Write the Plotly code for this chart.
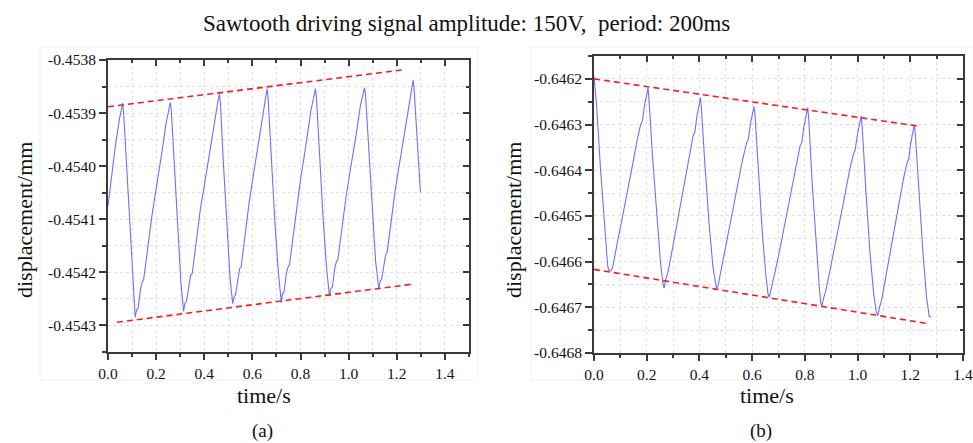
import plotly.graph_objects as go

FONT = "Times New Roman, Liberation Serif, Tinos, serif"

# ---------------- data: panel (a) ----------------
t_a = [0.000, 0.006, 0.012, 0.020, 0.027, 0.031, 0.040, 0.048, 0.055, 0.061,
       0.065, 0.077, 0.092, 0.104, 0.113,
       0.119, 0.125, 0.135, 0.142, 0.148, 0.164, 0.182, 0.196, 0.211, 0.227, 0.241, 0.252, 0.259,
       0.263, 0.275, 0.290, 0.303, 0.314,
       0.320, 0.326, 0.336, 0.343, 0.350, 0.366, 0.384, 0.399, 0.414, 0.430, 0.445, 0.456, 0.463,
       0.467, 0.479, 0.494, 0.507, 0.518,
       0.524, 0.530, 0.540, 0.547, 0.553, 0.569, 0.586, 0.600, 0.614, 0.630, 0.644, 0.654, 0.661,
       0.665, 0.678, 0.694, 0.708, 0.720,
       0.725, 0.731, 0.741, 0.748, 0.754, 0.770, 0.786, 0.800, 0.814, 0.830, 0.844, 0.855, 0.862,
       0.866, 0.879, 0.894, 0.908, 0.920,
       0.926, 0.932, 0.942, 0.949, 0.955, 0.971, 0.989, 1.003, 1.018, 1.034, 1.048, 1.059, 1.066,
       1.070, 1.083, 1.098, 1.112, 1.125,
       1.131, 1.137, 1.147, 1.154, 1.160, 1.176, 1.193, 1.207, 1.221, 1.237, 1.251, 1.261, 1.268,
       1.272, 1.284, 1.298]
d_a = [-0.454075, -0.454050, -0.454030, -0.454000, -0.453975, -0.453960, -0.453930, -0.453910, -0.453895, -0.453881,
       -0.453900, -0.454000, -0.454130, -0.454220, -0.454285,
       -0.454270, -0.454268, -0.454232, -0.454218, -0.454214, -0.454155, -0.454095, -0.454054, -0.454014, -0.453965, -0.453920, -0.453896, -0.453880,
       -0.453895, -0.454000, -0.454130, -0.454220, -0.454273,
       -0.454258, -0.454255, -0.454220, -0.454206, -0.454202, -0.454142, -0.454080, -0.454040, -0.453998, -0.453950, -0.453904, -0.453880, -0.453864,
       -0.453880, -0.453990, -0.454120, -0.454210, -0.454259,
       -0.454246, -0.454242, -0.454207, -0.454193, -0.454190, -0.454130, -0.454070, -0.454028, -0.453988, -0.453940, -0.453895, -0.453870, -0.453854,
       -0.453870, -0.453980, -0.454110, -0.454200, -0.454257,
       -0.454240, -0.454238, -0.454203, -0.454190, -0.454186, -0.454126, -0.454066, -0.454025, -0.453985, -0.453937, -0.453893, -0.453870, -0.453854,
       -0.453870, -0.453980, -0.454100, -0.454190, -0.454245,
       -0.454230, -0.454228, -0.454193, -0.454180, -0.454176, -0.454117, -0.454058, -0.454018, -0.453978, -0.453932, -0.453888, -0.453866, -0.453852,
       -0.453866, -0.453970, -0.454090, -0.454180, -0.454230,
       -0.454216, -0.454213, -0.454180, -0.454166, -0.454162, -0.454104, -0.454046, -0.454007, -0.453968, -0.453921, -0.453878, -0.453854, -0.453838,
       -0.453856, -0.453940, -0.454049]
env_a_upper_t = [0.000, 1.236]
env_a_upper_d = [-0.453888, -0.453818]
env_a_lower_t = [0.037, 1.268]
env_a_lower_d = [-0.454294, -0.454222]

# ---------------- data: panel (b) ----------------
t_b = [0.000, 0.010, 0.025, 0.040, 0.052, 0.057, 0.064,
       0.071, 0.078, 0.092, 0.106, 0.120, 0.134, 0.149, 0.163, 0.177, 0.184, 0.191, 0.205,
       0.208, 0.222, 0.238, 0.252, 0.262, 0.266,
       0.272, 0.280, 0.294, 0.307, 0.321, 0.335, 0.349, 0.363, 0.376, 0.383, 0.390, 0.404,
       0.407, 0.421, 0.437, 0.451, 0.460, 0.465,
       0.471, 0.479, 0.493, 0.507, 0.521, 0.536, 0.550, 0.564, 0.579, 0.586, 0.593, 0.607,
       0.611, 0.624, 0.639, 0.652, 0.660, 0.665,
       0.672, 0.680, 0.694, 0.709, 0.723, 0.738, 0.753, 0.767, 0.782, 0.789, 0.796, 0.811,
       0.815, 0.828, 0.842, 0.854, 0.860, 0.864,
       0.871, 0.879, 0.894, 0.909, 0.924, 0.939, 0.954, 0.969, 0.984, 0.991, 0.999, 1.014,
       1.018, 1.032, 1.047, 1.061, 1.071, 1.077,
       1.083, 1.091, 1.104, 1.118, 1.132, 1.146, 1.160, 1.173, 1.187, 1.194, 1.201, 1.215,
       1.219, 1.233, 1.248, 1.262, 1.272, 1.279]
d_b = [-0.646195, -0.646260, -0.646400, -0.646520, -0.646610, -0.646620, -0.646620,
       -0.646612, -0.646588, -0.646548, -0.646508, -0.646468, -0.646420, -0.646380, -0.646336, -0.646300, -0.646292, -0.646260, -0.646220,
       -0.646240, -0.646370, -0.646500, -0.646600, -0.646650, -0.646658,
       -0.646640, -0.646624, -0.646583, -0.646541, -0.646499, -0.646450, -0.646408, -0.646362, -0.646325, -0.646316, -0.646283, -0.646241,
       -0.646260, -0.646390, -0.646520, -0.646610, -0.646650, -0.646660,
       -0.646652, -0.646628, -0.646588, -0.646548, -0.646508, -0.646460, -0.646420, -0.646376, -0.646340, -0.646332, -0.646300, -0.646260,
       -0.646280, -0.646410, -0.646540, -0.646630, -0.646670, -0.646678,
       -0.646660, -0.646645, -0.646604, -0.646562, -0.646520, -0.646470, -0.646428, -0.646383, -0.646346, -0.646338, -0.646305, -0.646263,
       -0.646290, -0.646430, -0.646560, -0.646650, -0.646690, -0.646698,
       -0.646680, -0.646665, -0.646623, -0.646581, -0.646539, -0.646490, -0.646448, -0.646402, -0.646365, -0.646356, -0.646323, -0.646281,
       -0.646310, -0.646450, -0.646580, -0.646670, -0.646710, -0.646718,
       -0.646700, -0.646685, -0.646643, -0.646601, -0.646559, -0.646510, -0.646468, -0.646422, -0.646385, -0.646376, -0.646343, -0.646301,
       -0.646320, -0.646450, -0.646580, -0.646680, -0.646720, -0.646721]
env_b_upper_t = [0.000, 1.225]
env_b_upper_d = [-0.646200, -0.646303]
env_b_lower_t = [0.000, 1.270]
env_b_lower_d = [-0.646617, -0.646736]

# ---------------- tick labels ----------------
x_tickvals = [0.0, 0.2, 0.4, 0.6, 0.8, 1.0, 1.2, 1.4]
x_ticktext = ["0.0", "0.2", "0.4", "0.6", "0.8", "1.0", "1.2", "1.4"]
ya_tickvals = [-0.4538, -0.4539, -0.4540, -0.4541, -0.4542, -0.4543]
ya_ticktext = ["-0.4538", "-0.4539", "-0.4540", "-0.4541", "-0.4542", "-0.4543"]
yb_tickvals = [-0.6462, -0.6463, -0.6464, -0.6465, -0.6466, -0.6467, -0.6468]
yb_ticktext = ["-0.6462", "-0.6463", "-0.6464", "-0.6465", "-0.6466", "-0.6467", "-0.6468"]

title_text = "Sawtooth driving signal amplitude: 150V,  period: 200ms"
x_title = "time/s"
y_title = "displacement/mm"
panel_labels = ["(a)", "(b)"]

BLUE = "#6f6fff"
RED = "#ff1a1a"
AXC = "#3a3a3a"
GRID = "#e0e0e0"

W, H = 973, 443
def px(x): return x / W
def py(y): return 1 - y / H

fig = go.Figure()

dash_style = dict(color=RED, width=1.6, dash="6px,4px")
fig.add_trace(go.Scatter(x=t_a, y=d_a, mode="lines", line=dict(color=BLUE, width=1.1),
                         xaxis="x", yaxis="y", showlegend=False))
fig.add_trace(go.Scatter(x=env_a_upper_t, y=env_a_upper_d, mode="lines", line=dash_style,
                         xaxis="x", yaxis="y", showlegend=False))
fig.add_trace(go.Scatter(x=env_a_lower_t, y=env_a_lower_d, mode="lines", line=dash_style,
                         xaxis="x", yaxis="y", showlegend=False))
fig.add_trace(go.Scatter(x=t_b, y=d_b, mode="lines", line=dict(color=BLUE, width=1.1),
                         xaxis="x2", yaxis="y2", showlegend=False))
fig.add_trace(go.Scatter(x=env_b_upper_t, y=env_b_upper_d, mode="lines", line=dash_style,
                         xaxis="x2", yaxis="y2", showlegend=False))
fig.add_trace(go.Scatter(x=env_b_lower_t, y=env_b_lower_d, mode="lines", line=dash_style,
                         xaxis="x2", yaxis="y2", showlegend=False))

# empty traces to anchor mirrored (inside-tick) axes
for xa, ya in [("x3", "y"), ("x", "y3"), ("x4", "y2"), ("x2", "y4")]:
    fig.add_trace(go.Scatter(x=[], y=[], xaxis=xa, yaxis=ya, showlegend=False, hoverinfo="skip"))

tickfont = dict(family=FONT, size=15.5, color="#111")

def xaxis_main(dom, rng, anchor):
    return dict(domain=dom, range=rng, anchor=anchor, tickvals=x_tickvals, ticktext=x_ticktext,
                ticks="outside", ticklen=6, tickwidth=1.5, tickcolor=AXC,
                showline=True, linecolor=AXC, linewidth=2, mirror=True,
                showgrid=True, gridcolor=GRID, griddash="dot", gridwidth=1,
                minor=dict(dtick=0.1, tick0=0, ticks="outside", ticklen=3, tickcolor=AXC,
                           showgrid=True, gridcolor=GRID, griddash="dot"),
                tickfont=tickfont, zeroline=False, fixedrange=True, automargin=False)

def yaxis_main(dom, rng, anchor, tv, tt):
    return dict(domain=dom, range=rng, anchor=anchor, tickvals=tv, ticktext=tt,
                ticks="outside", ticklen=7, tickwidth=1.5, tickcolor=AXC,
                showline=True, linecolor=AXC, linewidth=2, mirror=True,
                showgrid=True, gridcolor=GRID, griddash="dot", gridwidth=1,
                minor=dict(dtick=0.00005, tick0=-0.4538, ticks="outside", ticklen=4, tickcolor=AXC,
                           showgrid=True, gridcolor=GRID, griddash="dot"),
                tickfont=tickfont, zeroline=False, fixedrange=True, automargin=False)

def xaxis_top(rng, overlay, anchor):
    return dict(overlaying=overlay, anchor=anchor, side="top", range=rng, tickvals=x_tickvals,
                ticks="inside", ticklen=6, tickwidth=1.5, tickcolor=AXC,
                showline=False, showgrid=False, zeroline=False, showticklabels=False,
                minor=dict(dtick=0.1, tick0=0, ticks="inside", ticklen=3, tickcolor=AXC, showgrid=False),
                fixedrange=True, automargin=False)

def yaxis_right(rng, overlay, anchor, tv):
    return dict(overlaying=overlay, anchor=anchor, side="right", range=rng, tickvals=tv,
                ticks="inside", ticklen=6, tickwidth=1.5, tickcolor=AXC,
                showline=False, showgrid=False, zeroline=False, showticklabels=False,
                minor=dict(dtick=0.00005, tick0=-0.4538, ticks="inside", ticklen=3, tickcolor=AXC, showgrid=False),
                fixedrange=True, automargin=False)

xa_dom = [px(108), px(469)]
ya_dom = [py(352), py(60)]
xb_dom = [px(594), px(963)]
yb_dom = [py(353), py(56)]
xa_rng = [0, 1.5]
ya_rng = [-0.45435, -0.4538]
xb_rng = [0, 1.4]
yb_rng = [-0.6468, -0.64615]

fig.update_layout(
    width=W, height=H, margin=dict(l=0, r=0, t=0, b=0, autoexpand=False),
    paper_bgcolor="white", plot_bgcolor="white",
    font=dict(family=FONT),
    xaxis=xaxis_main(xa_dom, xa_rng, "y"),
    yaxis=yaxis_main(ya_dom, ya_rng, "x", ya_tickvals, ya_ticktext),
    xaxis2=xaxis_main(xb_dom, xb_rng, "y2"),
    yaxis2=yaxis_main(yb_dom, yb_rng, "x2", yb_tickvals, yb_ticktext),
    xaxis3=xaxis_top(xa_rng, "x", "y"),
    yaxis3=yaxis_right(ya_rng, "y", "x", ya_tickvals),
    xaxis4=xaxis_top(xb_rng, "x2", "y2"),
    yaxis4=yaxis_right(yb_rng, "y2", "x2", yb_tickvals),
    showlegend=False,
)

ann = []
ann.append(dict(text=title_text, x=px(466), y=py(23), xref="paper", yref="paper",
                showarrow=False, xanchor="center", yanchor="middle",
                font=dict(family=FONT, size=23, color="#111")))
for cx in [264, 767]:
    ann.append(dict(text=x_title, x=px(cx), y=py(395), xref="paper", yref="paper",
                    showarrow=False, xanchor="center", yanchor="middle",
                    font=dict(family=FONT, size=22, color="#111")))
for cx in [25, 514]:
    ann.append(dict(text=y_title, x=px(cx), y=py(220), xref="paper", yref="paper",
                    showarrow=False, xanchor="center", yanchor="middle", textangle=-90,
                    font=dict(family=FONT, size=22, color="#111")))
for lab, cx in zip(panel_labels, [262, 761]):
    ann.append(dict(text=lab, x=px(cx), y=py(431), xref="paper", yref="paper",
                    showarrow=False, xanchor="center", yanchor="middle",
                    font=dict(family=FONT, size=19, color="#111")))
fig.update_layout(annotations=ann)

shapes = []
for x0, x1 in [(40, 478), (531, 973)]:
    shapes.append(dict(type="rect", xref="paper", yref="paper", x0=px(x0), x1=px(x1), y0=py(380), y1=py(47),
                       line=dict(color="#f0f0f0", width=1), fillcolor="rgba(0,0,0,0)", layer="below"))
fig.update_layout(shapes=shapes)

fig.write_html("out.html")
